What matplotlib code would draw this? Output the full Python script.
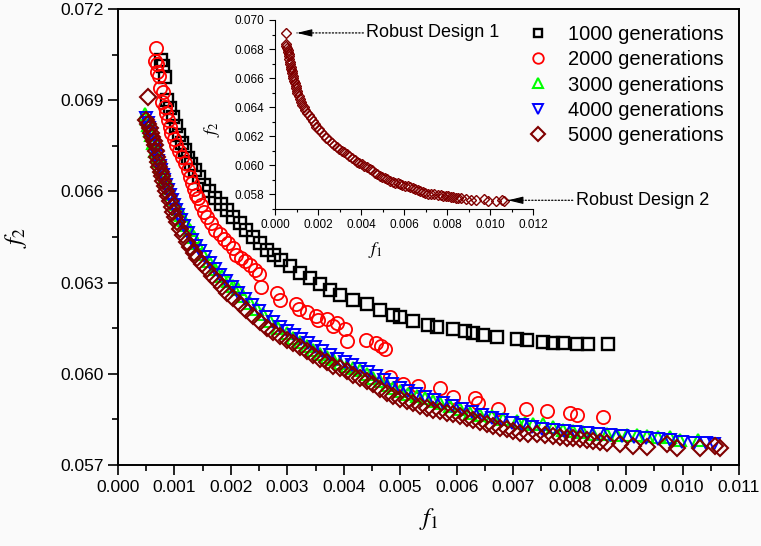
import numpy as np
import matplotlib
matplotlib.use("Agg")
import matplotlib.pyplot as plt
from matplotlib.ticker import MultipleLocator, FormatStrFormatter

plt.rcParams['font.family'] = ['Liberation Sans', 'DejaVu Sans']
plt.rcParams['mathtext.fontset'] = 'stix'

# ---- data ----
f1_1000 = [0.00076, 0.000796, 0.000832, 0.000867, 0.00092, 0.000973, 0.001027, 0.00108, 0.001133, 0.001186,
           0.001239, 0.001292, 0.001363, 0.001434, 0.001522, 0.001611, 0.001717, 0.001823, 0.001929, 0.002035,
           0.002159, 0.002265, 0.002389, 0.002513, 0.002637, 0.002761, 0.002885, 0.003044, 0.003221, 0.003398,
           0.003575, 0.003752, 0.003929, 0.004159, 0.004407, 0.004637, 0.004867, 0.004991, 0.005221, 0.005487,
           0.005646, 0.005929, 0.006142, 0.006283, 0.00646, 0.006708, 0.007062, 0.007239, 0.007522, 0.007699,
           0.007876, 0.008124, 0.008319, 0.008673]
f2_1000 = [0.070319, 0.070121, 0.069758, 0.069, 0.068736, 0.06844, 0.068143, 0.067846, 0.067582, 0.067352,
           0.067088, 0.06689, 0.066692, 0.066462, 0.066198, 0.066, 0.065769, 0.065571, 0.065374, 0.065143,
           0.064945, 0.064747, 0.064516, 0.064319, 0.064088, 0.063923, 0.063758, 0.06356, 0.06333, 0.063165,
           0.062967, 0.062769, 0.062604, 0.06244, 0.062308, 0.06211, 0.061945, 0.061879, 0.061747, 0.061615,
           0.061549, 0.061484, 0.061418, 0.061352, 0.061286, 0.06122, 0.061154, 0.061121, 0.061055, 0.061022,
           0.061022, 0.060989, 0.060989, 0.060989]

f1_2000 = [0.000673, 0.000655, 0.00069, 0.00069, 0.000726, 0.000743, 0.000796, 0.000779, 0.000832, 0.00085,
           0.000885, 0.00092, 0.000938, 0.000991, 0.001027, 0.00108, 0.001133, 0.001186, 0.001239, 0.001274,
           0.00131, 0.001345, 0.001381, 0.001416, 0.001469, 0.001522, 0.001575, 0.001646, 0.001717, 0.001805,
           0.001876, 0.001947, 0.002035, 0.002088, 0.002177, 0.002248, 0.002336, 0.002425, 0.002496, 0.002531,
           0.002814, 0.002867, 0.00315, 0.003204, 0.003345, 0.003504, 0.00354, 0.003699, 0.003805, 0.003876,
           0.004018, 0.004053, 0.004389, 0.004566, 0.004655, 0.004726, 0.004814, 0.005044, 0.00531, 0.005699,
           0.005929, 0.006319, 0.006372, 0.006726, 0.007221, 0.007593, 0.008, 0.008124, 0.008584]
f2_2000 = [0.070714, 0.070286, 0.070187, 0.069923, 0.069791, 0.069396, 0.069264, 0.068934, 0.068769, 0.068571,
           0.068341, 0.06811, 0.067912, 0.067714, 0.067516, 0.067319, 0.067121, 0.066923, 0.066692, 0.066462,
           0.066264, 0.066066, 0.065868, 0.065769, 0.065538, 0.065308, 0.065143, 0.064945, 0.064747, 0.064615,
           0.064451, 0.064319, 0.064154, 0.063923, 0.063824, 0.063725, 0.063593, 0.063429, 0.063297, 0.062868,
           0.06267, 0.06244, 0.062308, 0.062143, 0.062044, 0.061912, 0.06178, 0.061813, 0.061582, 0.061681,
           0.061484, 0.061088, 0.061121, 0.061022, 0.060923, 0.060824, 0.059901, 0.05967, 0.059604, 0.059538,
           0.059242, 0.059209, 0.059044, 0.058846, 0.058846, 0.05878, 0.058714, 0.058648, 0.058582]

f1_3000 = [0.000478, 0.000513, 0.000531, 0.000566, 0.000584, 0.000619, 0.000655, 0.00069, 0.000708, 0.000743,
           0.000796, 0.000832, 0.00085, 0.000903, 0.000938, 0.000991, 0.001027, 0.00108, 0.001115, 0.001168,
           0.001204, 0.001274, 0.001345, 0.001398, 0.001504, 0.001611, 0.001717, 0.001841, 0.001947, 0.002035,
           0.002124, 0.002212, 0.002336, 0.00246, 0.002566, 0.00269, 0.002832, 0.002991, 0.003097, 0.003221,
           0.003345, 0.003451, 0.003575, 0.003699, 0.003805, 0.003929, 0.004053, 0.004159, 0.004283, 0.004407,
           0.004513, 0.004637, 0.004761, 0.004867, 0.004991, 0.005133, 0.005292, 0.005434, 0.005575, 0.005699,
           0.005876, 0.006053, 0.00623, 0.006407, 0.006619, 0.006814, 0.007062, 0.007204, 0.007345, 0.007522,
           0.007699, 0.007876, 0.008053, 0.00823, 0.008407, 0.008655, 0.008832, 0.009009, 0.009186, 0.009363,
           0.009558, 0.00977, 0.009947, 0.010265]
f2_3000 = [0.068553, 0.068388, 0.06819, 0.068025, 0.06786, 0.067596, 0.067333, 0.067168, 0.067003, 0.066838,
           0.06668, 0.066516, 0.066351, 0.06612, 0.065922, 0.065757, 0.065593, 0.065428, 0.06523, 0.065065,
           0.0649, 0.064735, 0.064505, 0.064307, 0.063944, 0.063713, 0.06345, 0.063219, 0.063054, 0.062889,
           0.06279, 0.06256, 0.062329, 0.062131, 0.061966, 0.061735, 0.061505, 0.06134, 0.061175, 0.061043,
           0.060911, 0.060779, 0.060647, 0.060549, 0.060483, 0.060351, 0.060252, 0.060186, 0.06012, 0.059988,
           0.059856, 0.059757, 0.059626, 0.059527, 0.059428, 0.059329, 0.059263, 0.059197, 0.059098, 0.059032,
           0.058933, 0.058834, 0.058702, 0.058636, 0.058604, 0.058505, 0.058439, 0.058373, 0.05834, 0.05834,
           0.058234, 0.058135, 0.058102, 0.058069, 0.058003, 0.058003, 0.05797, 0.05797, 0.05797, 0.057937,
           0.057904, 0.057904, 0.057838, 0.057838]

f1_4000 = [0.000496, 0.000531, 0.000549, 0.000584, 0.000602, 0.000637, 0.000655, 0.00069, 0.000708, 0.000743,
           0.000761, 0.000796, 0.000814, 0.00085, 0.000885, 0.00092, 0.000956, 0.000991, 0.001027, 0.001062,
           0.001115, 0.001168, 0.001239, 0.00131, 0.001381, 0.001451, 0.00154, 0.001628, 0.001717, 0.001805,
           0.001912, 0.002018, 0.002124, 0.002248, 0.002372, 0.002496, 0.002619, 0.002743, 0.002867, 0.002991,
           0.003115, 0.003239, 0.003363, 0.003487, 0.003611, 0.003752, 0.003876, 0.004018, 0.004142, 0.004283,
           0.004425, 0.004566, 0.004708, 0.00485, 0.004991, 0.005133, 0.005274, 0.005434, 0.005593, 0.005752,
           0.005912, 0.006088, 0.006265, 0.006442, 0.006619, 0.006796, 0.006973, 0.00715, 0.007327, 0.007504,
           0.007699, 0.007894, 0.008088, 0.008301, 0.008496, 0.008708, 0.00892, 0.009133, 0.009345, 0.009558,
           0.00977, 0.009982, 0.010195, 0.010407, 0.010549]
f2_4000 = [0.068407, 0.068242, 0.068077, 0.067879, 0.067681, 0.067484, 0.067319, 0.067154, 0.066989, 0.066824,
           0.066709, 0.066545, 0.06638, 0.066215, 0.06605, 0.065885, 0.06572, 0.065555, 0.065391, 0.065226,
           0.065061, 0.064863, 0.064632, 0.064402, 0.064204, 0.064039, 0.063841, 0.063643, 0.063446, 0.063248,
           0.06305, 0.062852, 0.062654, 0.062457, 0.062259, 0.062061, 0.061863, 0.061698, 0.061534, 0.061402,
           0.06127, 0.061138, 0.061006, 0.060874, 0.060742, 0.06061, 0.060479, 0.06038, 0.060281, 0.060149,
           0.06005, 0.059918, 0.059786, 0.059654, 0.059523, 0.059424, 0.059325, 0.059226, 0.059127, 0.059028,
           0.058929, 0.05883, 0.058731, 0.058632, 0.058534, 0.058468, 0.058369, 0.058303, 0.058237, 0.058171,
           0.058138, 0.058105, 0.058072, 0.058039, 0.058006, 0.057973, 0.05794, 0.057907, 0.057874, 0.057841,
           0.057808, 0.057758, 0.057725, 0.057725, 0.057692]

f1_5000 = [0.000531, 0.000496, 0.000531, 0.000566, 0.000584, 0.000602, 0.000637, 0.000655, 0.000673, 0.00069,
           0.000708, 0.000726, 0.000761, 0.000779, 0.000796, 0.000832, 0.00085, 0.000885, 0.00092, 0.000956,
           0.000973, 0.001009, 0.001044, 0.001097, 0.00115, 0.001221, 0.001274, 0.001345, 0.001398, 0.001487,
           0.001575, 0.001664, 0.001752, 0.001841, 0.001929, 0.002035, 0.002159, 0.002265, 0.002389, 0.002513,
           0.002637, 0.002743, 0.002867, 0.002991, 0.003097, 0.003221, 0.003345, 0.003451, 0.003575, 0.003699,
           0.003805, 0.003929, 0.004053, 0.004159, 0.004283, 0.004407, 0.004513, 0.004637, 0.004761, 0.004867,
           0.004991, 0.005115, 0.005221, 0.005345, 0.005469, 0.005575, 0.005699, 0.005823, 0.005929, 0.006053,
           0.006177, 0.006283, 0.006407, 0.006531, 0.006637, 0.006761, 0.006885, 0.006991, 0.007115, 0.007257,
           0.007416, 0.007558, 0.007699, 0.007823, 0.007947, 0.008053, 0.008177, 0.008301, 0.008407, 0.008531,
           0.008655, 0.008885, 0.009115, 0.009363, 0.009717, 0.009894, 0.010301, 0.010566, 0.010655]
f2_5000 = [0.069099, 0.068341, 0.068209, 0.068077, 0.067912, 0.06778, 0.067648, 0.067516, 0.067319, 0.067121,
           0.066956, 0.066791, 0.066626, 0.066495, 0.06633, 0.066165, 0.066, 0.065835, 0.06567, 0.065473,
           0.065308, 0.065143, 0.064978, 0.06478, 0.064582, 0.064352, 0.064187, 0.063989, 0.063824, 0.063626,
           0.063462, 0.063231, 0.063066, 0.062868, 0.06267, 0.062506, 0.062308, 0.06211, 0.061912, 0.061714,
           0.061516, 0.061385, 0.061253, 0.061121, 0.061022, 0.06089, 0.060758, 0.060626, 0.060495, 0.060396,
           0.060264, 0.060198, 0.060099, 0.059967, 0.059868, 0.059769, 0.05967, 0.059506, 0.059374, 0.059275,
           0.059176, 0.05911, 0.059044, 0.058945, 0.058879, 0.058813, 0.05878, 0.058714, 0.058681, 0.058615,
           0.058549, 0.058484, 0.058418, 0.058352, 0.058286, 0.05822, 0.058187, 0.058121, 0.058055, 0.058022,
           0.058022, 0.057989, 0.057956, 0.057923, 0.05789, 0.05789, 0.057857, 0.057824, 0.057791, 0.057758,
           0.057725, 0.057692, 0.057626, 0.057593, 0.057692, 0.05756, 0.05756, 0.057626, 0.05756]

labels = ["1000 generations", "2000 generations", "3000 generations",
          "4000 generations", "5000 generations"]

bg = '#fafafa'
fig = plt.figure(figsize=(7.61, 5.46), dpi=100, facecolor=bg)
ax = fig.add_axes([0.1551, 0.1484, 0.816, 0.835], facecolor=bg)

ax.plot(f1_1000, f2_1000, 's', ms=8, mfc='none', mec='black', mew=1.7, ls='none', label=labels[0])
ax.plot(f1_2000, f2_2000, 'o', ms=9.5, mfc='none', mec='#ff0000', mew=1.3, ls='none', label=labels[1])
ax.plot(f1_3000, f2_3000, '^', ms=9, mfc='none', mec='#00ff00', mew=1.5, ls='none', label=labels[2])
ax.plot(f1_4000, f2_4000, 'v', ms=9, mfc='none', mec='#0000ff', mew=1.4, ls='none', label=labels[3])
ax.plot(f1_5000, f2_5000, 'D', ms=8.5, mfc='none', mec='#800000', mew=1.5, ls='none', label=labels[4])

ax.set_xlim(0, 0.011)
ax.set_ylim(0.057, 0.072)
ax.xaxis.set_major_locator(MultipleLocator(0.001))
ax.xaxis.set_minor_locator(MultipleLocator(0.0005))
ax.yaxis.set_major_locator(MultipleLocator(0.003))
ax.yaxis.set_minor_locator(MultipleLocator(0.0015))
ax.xaxis.set_major_formatter(FormatStrFormatter('%.3f'))
ax.yaxis.set_major_formatter(FormatStrFormatter('%.3f'))
ax.tick_params(which='both', direction='out', width=1.2, labelsize=12.5, colors='black')
ax.tick_params(which='major', length=7)
ax.tick_params(which='minor', length=4)
for s in ax.spines.values():
    s.set_linewidth(1.4)

ax.set_xlabel('$f_1$', fontsize=18, labelpad=8)
ax.set_ylabel('$f_2$', fontsize=18, labelpad=22)

leg = ax.legend(loc='upper left', bbox_to_anchor=(0.624, 0.995), frameon=False,
                fontsize=14.5, handlelength=1.8, handletextpad=0.6, labelspacing=0.3,
                markerscale=0.8, borderpad=0.2)

# inset: 5000 generations front
ins = fig.add_axes([0.3614, 0.6172, 0.339, 0.3462], facecolor='none')
ins.plot(f1_5000, f2_5000, 'D', ms=5, mfc='none', mec='#800000', mew=1.0, ls='none')
ins.set_xlim(0, 0.012)
ins.set_ylim(0.057, 0.070)
ins.spines['top'].set_visible(False)
ins.spines['right'].set_visible(False)
ins.xaxis.set_major_locator(MultipleLocator(0.002))
ins.xaxis.set_minor_locator(MultipleLocator(0.001))
ins.yaxis.set_major_locator(MultipleLocator(0.002))
ins.yaxis.set_minor_locator(MultipleLocator(0.001))
ins.xaxis.set_major_formatter(FormatStrFormatter('%.3f'))
ins.yaxis.set_major_formatter(FormatStrFormatter('%.3f'))
ins.tick_params(which='both', direction='out', width=0.8, labelsize=8.5)
ins.tick_params(which='major', length=4)
ins.tick_params(which='minor', length=2.5)
ins.set_xlabel('$f_1$', fontsize=13)
ins.set_ylabel('$f_2$', fontsize=13)
ins.xaxis.set_label_coords(0.39, -0.165)
ins.yaxis.set_label_coords(-0.205, 0.42)

# annotations
ins.annotate('', xy=(0.00102, 0.06911), xytext=(0.00411, 0.06911),
             arrowprops=dict(arrowstyle='-', ls=':', lw=0.9, color='black', shrinkA=0, shrinkB=0))
ins.annotate('', xy=(0.00102, 0.06911), xytext=(0.00165, 0.06911),
             arrowprops=dict(arrowstyle='-|>,head_length=0.9,head_width=0.22', lw=0.8, color='black',
                             shrinkA=0, shrinkB=0))
ins.text(0.00425, 0.06911, 'Robust Design 1', fontsize=13, va='center', ha='left')

ins.annotate('', xy=(0.01084, 0.0576), xytext=(0.01385, 0.0576), annotation_clip=False,
             arrowprops=dict(arrowstyle='-', ls=':', lw=0.9, color='black', shrinkA=0, shrinkB=0))
ins.annotate('', xy=(0.01084, 0.0576), xytext=(0.01147, 0.0576), annotation_clip=False,
             arrowprops=dict(arrowstyle='-|>,head_length=0.9,head_width=0.22', lw=0.8, color='black',
                             shrinkA=0, shrinkB=0))
ins.text(0.0140, 0.0576, 'Robust Design 2', fontsize=13, va='center', ha='left', clip_on=False)

fig.savefig('out.png', dpi=100, facecolor=bg)
